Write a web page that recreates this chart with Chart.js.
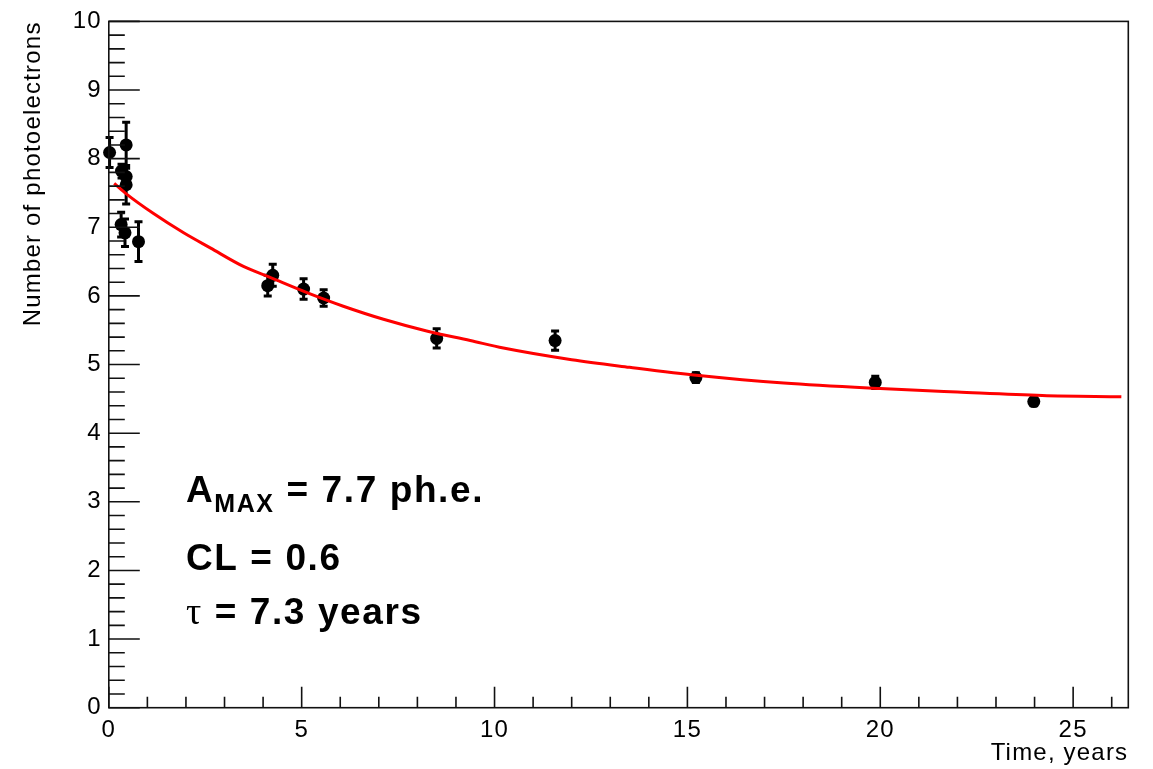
<!DOCTYPE html>
<html>
<head>
<meta charset="utf-8">
<title>Photoelectron yield vs time</title>
<script src="https://cdn.jsdelivr.net/npm/chart.js@4.4.1/dist/chart.umd.min.js"></script>
<style>
  html, body { margin: 0; padding: 0; background: #fff; }
  #wrap { width: 1153px; height: 769px; }
</style>
</head>
<body>
<div id="wrap"><canvas id="pheChart" width="1153" height="769"></canvas></div>
<script>
// measured amplitude (ph.e.) against detector age (years)
const timeYears      = [0.02, 0.45, 0.33, 0.45, 0.45, 0.32, 0.42, 0.77, 4.12, 4.25, 5.05, 5.57, 8.50, 11.57, 15.22, 19.87, 23.98];
const photoElectrons = [8.09, 8.20, 7.82, 7.74, 7.62, 7.04, 6.92, 6.79, 6.15, 6.30, 6.10, 5.97, 5.38, 5.35, 4.81, 4.74, 4.46];
const errors         = [0.22, 0.33, 0.10, 0.12, 0.28, 0.18, 0.20, 0.29, 0.15, 0.16, 0.15, 0.12, 0.14, 0.14, 0.07, 0.09, 0.06];

// fitted curve
const fitTime  = [0.14, 0.47, 1.16, 1.94, 2.63, 3.49, 4.18, 5.22, 6.08, 7.12, 8.24, 9.37, 10.23, 12.0, 13.5, 15.3, 17.5, 20.0, 22.0, 24.2, 26.25];
const fitValue = [7.64, 7.48, 7.20, 6.92, 6.70, 6.43, 6.27, 6.03, 5.85, 5.66, 5.49, 5.35, 5.24, 5.07, 4.96, 4.84, 4.73, 4.65, 4.60, 4.55, 4.53];

const xTickValues = [0, 5, 10, 15, 20, 25];
const yTickValues = [0, 1, 2, 3, 4, 5, 6, 7, 8, 9, 10];

// fit parameters printed on the plot
const noteLines = [
  [{ text: 'A' }, { text: 'MAX', sub: true }, { text: ' = 7.7 ph.e.' }],
  [{ text: 'CL = 0.6' }],
  [{ text: 'τ', greek: true }, { text: ' = 7.3 years' }]
];
const noteAnchorX = 2.0;
const noteAnchorY = [3.0, 2.0, 1.22];

const FONT = '"Liberation Sans", Arial, Helvetica, sans-serif';

// ROOT-like frame with inward ticks
const frameTicks = {
  id: 'frameTicks',
  beforeDraw(chart) {
    chart.ctx.letterSpacing = '1.2px';
  },
  afterDraw(chart) {
    const { ctx, chartArea: a, scales: { x, y } } = chart;
    ctx.save();
    ctx.strokeStyle = '#111';
    ctx.lineWidth = 1.6;
    ctx.beginPath();
    for (let i = 0; i <= 50; i++) {
      const py = y.getPixelForValue(i * 0.2);
      const len = i % 5 === 0 ? 31 : 16;
      ctx.moveTo(a.left, py);
      ctx.lineTo(a.left + len, py);
    }
    for (let i = 0; i <= 26; i++) {
      const px = x.getPixelForValue(i);
      const len = i % 5 === 0 ? 21 : 11;
      ctx.moveTo(px, a.bottom);
      ctx.lineTo(px, a.bottom - len);
    }
    ctx.stroke();
    ctx.strokeRect(a.left, a.top, a.right - a.left, a.bottom - a.top);
    ctx.restore();
  }
};

// vertical error bars with small caps, under the markers
const errorBars = {
  id: 'errorBars',
  beforeDatasetDraw(chart, args) {
    if (args.index !== 1) return;
    const { ctx, scales: { x, y } } = chart;
    ctx.save();
    ctx.strokeStyle = '#000';
    ctx.lineWidth = 3;
    ctx.beginPath();
    timeYears.forEach((t, i) => {
      const px = x.getPixelForValue(t);
      const top = y.getPixelForValue(photoElectrons[i] + errors[i]);
      const bot = y.getPixelForValue(photoElectrons[i] - errors[i]);
      ctx.moveTo(px, top); ctx.lineTo(px, bot);
      ctx.moveTo(px - 4, top); ctx.lineTo(px + 4, top);
      ctx.moveTo(px - 4, bot); ctx.lineTo(px + 4, bot);
    });
    ctx.stroke();
    ctx.restore();
  }
};

const notes = {
  id: 'notes',
  afterDraw(chart) {
    const { ctx, scales: { x, y } } = chart;
    ctx.save();
    ctx.fillStyle = '#000';
    ctx.textBaseline = 'alphabetic';
    ctx.letterSpacing = '1.6px';
    noteLines.forEach((parts, row) => {
      let px = x.getPixelForValue(noteAnchorX);
      const base = y.getPixelForValue(noteAnchorY[row]);
      parts.forEach(p => {
        if (p.sub) ctx.font = 'bold 25px ' + FONT;
        else if (p.greek) ctx.font = '38px "Liberation Serif", serif';
        else ctx.font = 'bold 37px ' + FONT;
        ctx.fillText(p.text, px, p.sub ? base + 10 : base);
        px += ctx.measureText(p.text).width;
      });
    });
    ctx.restore();
  }
};

new Chart(document.getElementById('pheChart'), {
  type: 'scatter',
  data: {
    datasets: [
      {
        type: 'line',
        data: fitTime.map((t, i) => ({ x: t, y: fitValue[i] })),
        borderColor: '#ff0000',
        borderWidth: 3,
        pointRadius: 0,
        cubicInterpolationMode: 'monotone',
        fill: false
      },
      {
        data: timeYears.map((t, i) => ({ x: t, y: photoElectrons[i] })),
        backgroundColor: '#000',
        borderColor: '#000',
        pointRadius: 6.5,
        pointBorderWidth: 0,
        clip: false
      }
    ]
  },
  options: {
    responsive: false,
    animation: false,
    devicePixelRatio: 1,
    layout: { padding: { left: 0, top: 16, right: 24.7, bottom: 0 } },
    plugins: { legend: { display: false }, tooltip: { enabled: false } },
    scales: {
      x: {
        type: 'linear',
        min: 0,
        max: 26.43,
        afterBuildTicks: s => { s.ticks = xTickValues.map(v => ({ value: v })); },
        afterFit: s => { s.height = 61.3; },
        grid: { display: false, drawTicks: false },
        border: { display: false },
        ticks: { color: '#000', padding: 8, maxRotation: 0, font: { family: FONT, size: 24 } },
        title: {
          display: true, text: 'Time, years', align: 'end', color: '#000',
          font: { family: FONT, size: 24 }, padding: { top: 0, bottom: 1 }
        }
      },
      y: {
        min: 0,
        max: 10,
        afterBuildTicks: s => { s.ticks = yTickValues.map(v => ({ value: v })); },
        afterFit: s => { s.width = 108.8; },
        grid: { display: false, drawTicks: false },
        border: { display: false },
        ticks: { color: '#000', padding: 7, font: { family: FONT, size: 24 } },
        title: {
          display: true, text: 'Number of photoelectrons', align: 'end', color: '#000',
          font: { family: FONT, size: 24 }, padding: { top: 19, bottom: 0 }
        }
      }
    }
  },
  plugins: [frameTicks, errorBars, notes]
});
</script>
</body>
</html>
